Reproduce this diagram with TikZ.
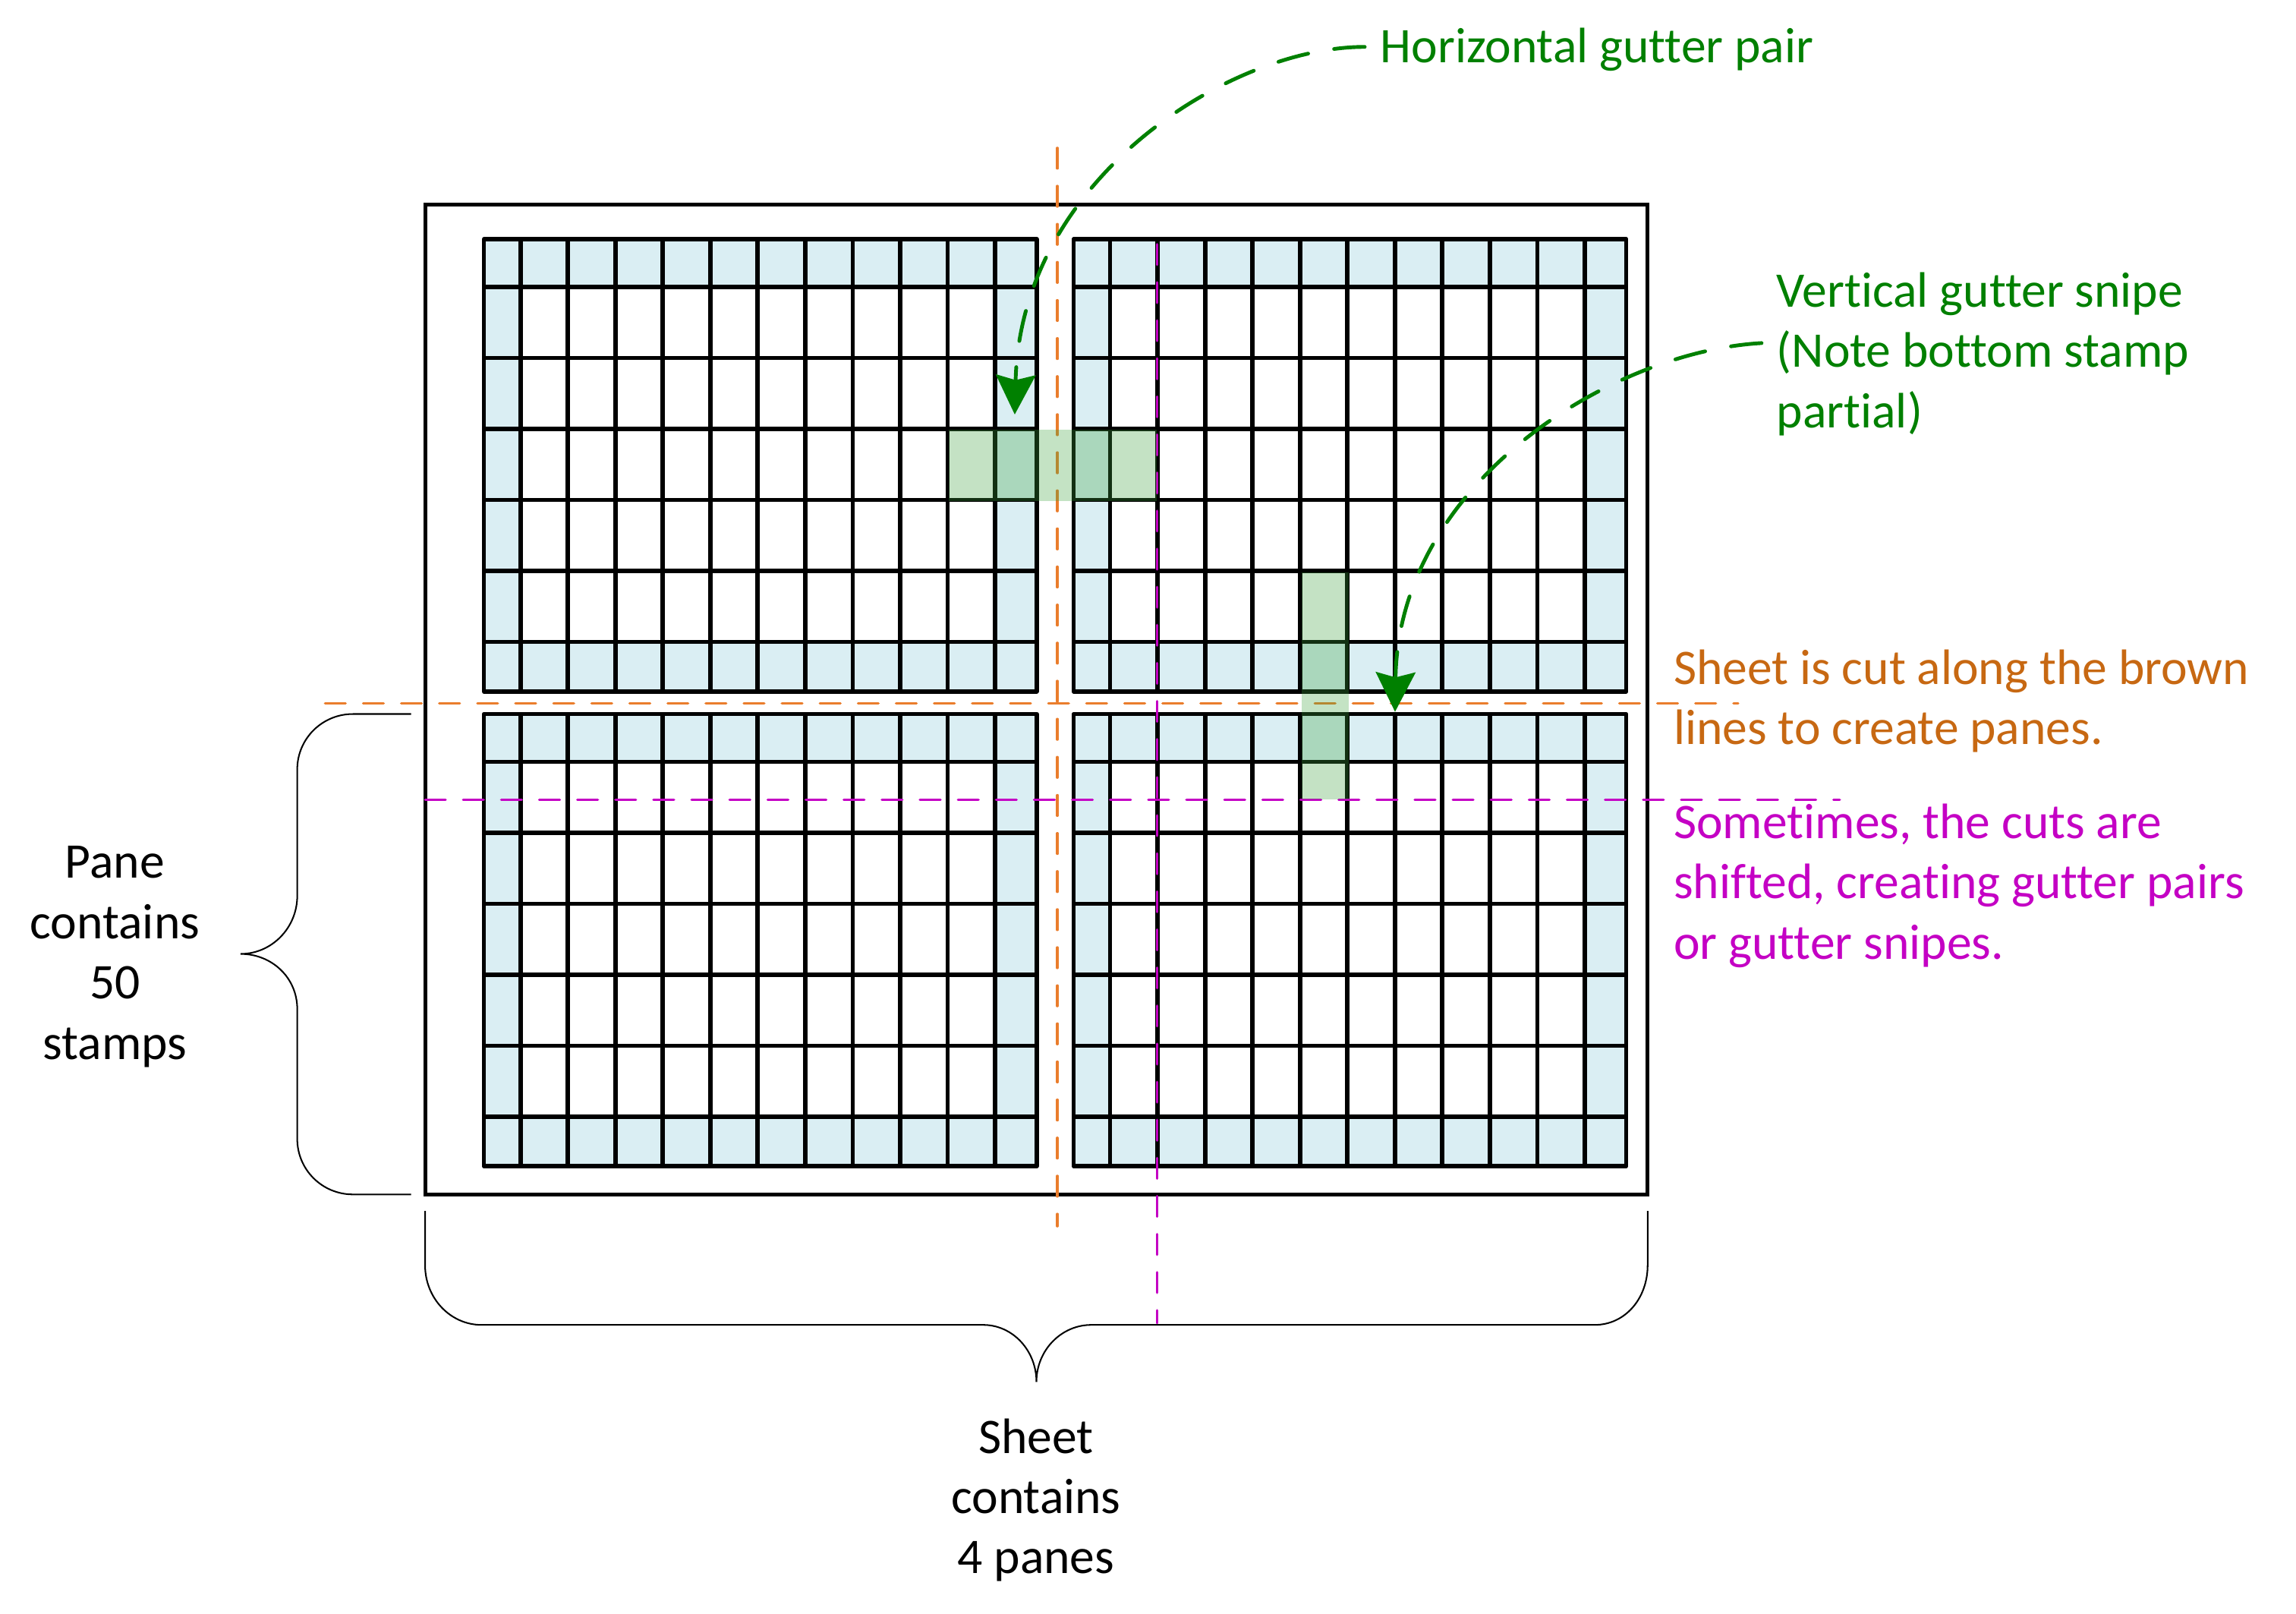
\documentclass[tikz,border=0pt]{standalone}
\usepackage{fontspec}
\setmainfont{Carlito}[Ligatures=NoCommon]
\usetikzlibrary{calc,arrows.meta}
\definecolor{paneblue}{RGB}{218,238,243}
\definecolor{gutgreen}{RGB}{0,128,0}
\definecolor{hilite}{RGB}{61,162,61}
\definecolor{cutorange}{RGB}{234,125,44}
\definecolor{cuttext}{RGB}{199,104,18}
\definecolor{shiftmag}{RGB}{196,0,196}
% one pane: margin row/column all round, 5 x 10 stamps inside
\def\stamppane(#1,#2){%
  \fill[paneblue] (#1,#2) rectangle ++(377.4,308.75);
  \fill[white] (#1+24.9,#2+32.7) rectangle ++(324.2,242.25);
  \foreach \i in {0,...,10}
    \draw[gridline] (#1+24.9+\i*32.42,#2) -- ++(0,308.75);
  \foreach \j in {0,...,5}
    \draw[gridline] (#1,#2+32.7+\j*48.45) -- ++(377.4,0);
  \draw[gridline] (#1,#2) rectangle ++(377.4,308.75);
}

\begin{document}
\begin{tikzpicture}[x=0.02cm, y=-0.02cm,
    every node/.style={inner sep=0pt, font=\fontsize{19.35pt}{23.45pt}\selectfont},
    gridline/.style={line width=1.7pt, line join=round},
    cutline/.style={line width=0.96pt, line cap=round, dash pattern=on 0.28cm off 0.24cm},
    gutarrow/.style={gutgreen, line width=1.45pt, line cap=round,
        dash pattern=on 0.42cm off 0.36cm,
        -{Stealth[length=0.54cm, width=0.54cm, inset=0.07cm]}},
    bracket/.style={line width=0.6pt}]
    \useasboundingbox (0,0) rectangle (1568,1101.5);
    %%%%% SHEET %%%%%
    \draw[line width=1.5pt] (290.3,139.5) rectangle (1125.2,815.5);
    \stamppane(330.5,163.3)
    \stamppane(733.2,163.3)
    \stamppane(330.5,487.5)
    \stamppane(733.2,487.5)

    %%%%% CUTS %%%%%
    \draw[cutline, cutorange] (722.1,101) -- (722.1,837.2);
    \draw[cutline, cutorange] (222,480.2) -- (1187,480.2);
    \draw[cutline, shiftmag] (790.1,166.8) -- (790.1,903.4);
    \draw[cutline, shiftmag] (290.3,546) -- (1256.4,546);

    % gutter pair and gutter snipe
    \fill[hilite, fill opacity=0.3] (648,293.4) rectangle (790.1,342.1);
    \fill[hilite, fill opacity=0.3] (889,391) rectangle (921,546);

    %%%%% BRACES %%%%%
    \draw[bracket] (280.8,487.5) -- (241,487.5) .. controls (220,487.5) and (203,504.4) .. (203,525.3)
        -- (203,611.6) .. controls (203,633.5) and (185.6,651.3) .. (164.2,651.3)
        .. controls (185.6,651.3) and (203,667.4) .. (203,689) -- (203,777.6)
        .. controls (203,798.6) and (220,815.5) .. (241,815.5) -- (280.8,815.5);
    \draw[bracket] (290.3,826.8) -- (290.3,863.9) .. controls (290.3,886.4) and (307.6,904.6) .. (328.9,904.6)
        -- (671.5,904.6) .. controls (691.5,904.6) and (707.8,922) .. (707.8,943.5)
        .. controls (707.8,922) and (724.7,904.6) .. (745.2,904.6) -- (1088.9,904.6)
        .. controls (1110,904.6) and (1125.2,886.4) .. (1125.2,863.9) -- (1125.2,826.8);

    %%%%% TEXT %%%%% (base = last line)
    \node[gutgreen, anchor=base west] (hgp) at (942.4,42.7) {Horizontal gutter pair};
    \node[gutgreen, anchor=base west, align=left] (vgs) at (1213,292) {Vertical gutter snipe\\(Note bottom stamp\\partial)};
    \node[cuttext, anchor=base west, align=left] (cut) at (1142.7,508.4) {Sheet is cut along the brown\\lines to create panes.};
    \node[shiftmag, anchor=base west, align=left] (shift) at (1142.7,654.8) {Sometimes, the cuts are\\shifted, creating gutter pairs\\or gutter snipes.};
    \node[anchor=base, align=center] (panetxt) at (78.5,723.2) {Pane\\contains\\50\\stamps};
    \node[anchor=base, align=center] (sheettxt) at (707.5,1074.5) {Sheet\\contains\\4 panes};

    %%%%% ARROWS %%%%%
    \coordinate (hgtip) at (693,283);
    \coordinate (vgtip) at (952.7,486);
    \draw[gutarrow] ($(hgp.base west)+(-10.4,-10.7)$) .. controls (840,32) and (697,122) .. (hgtip);
    \draw[gutarrow] ($(vgs.west)+(-10,-7.5)$) .. controls (1100,240) and (955,330) .. (vgtip);
\end{tikzpicture}
\end{document}
